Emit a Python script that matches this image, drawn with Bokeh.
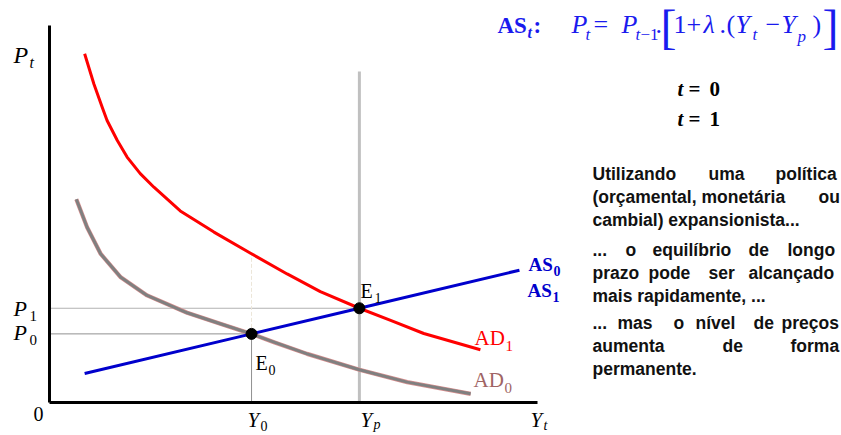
from bokeh.plotting import figure
from bokeh.models import Range1d
from bokeh.embed import file_html
from bokeh.resources import INLINE
from bokeh.core.properties import value

# ---------------- data (economic units: output Y on x axis, price P on y axis) ----------------
axis_len = 10.0
ad1_x = [0.72, 0.91, 1.08, 1.18, 1.39, 1.59, 1.86, 2.14, 2.68, 3.37, 4.12, 4.87, 5.55, 6.35, 6.99, 7.67, 8.83]
ad1_y = [9.25, 8.45, 7.83, 7.48, 6.95, 6.51, 6.07, 5.71, 5.08, 4.52, 3.96, 3.41, 2.94, 2.50, 2.18, 1.83, 1.40]
ad0_x = [0.55, 0.77, 1.05, 1.46, 2.00, 2.82, 3.50, 4.14, 4.60, 5.28, 6.35, 7.33, 8.63]
ad0_y = [5.39, 4.65, 3.94, 3.32, 2.84, 2.38, 2.09, 1.82, 1.60, 1.29, 0.87, 0.54, 0.23]
as_x = [0.72, 4.14, 6.35, 9.63]
as_y = [0.77, 1.82, 2.50, 3.51]
eq_x = [4.14, 6.35]          # Y0, Yp
eq_y = [1.82, 2.50]          # P0, P1
yp_top = 8.78
faint_top = 3.98

# ---------------- layout helpers ----------------
W, H = 841, 435
SX, SY = 48.8, 37.7          # pixels per unit
OX, OY = 49, 402             # picture position of the origin


def X(px):
    return (px - OX) / SX


def Y(py):
    return (OY - py) / SY


p = figure(width=W, height=H, output_backend="svg", toolbar_location=None,
           x_range=Range1d(X(0), X(W)), y_range=Range1d(Y(H), Y(0)),
           min_border=0, outline_line_color=None)
p.axis.visible = False
p.grid.visible = False
p.background_fill_color = "white"
p.border_fill_color = "white"

# dotted guides
p.line([0, eq_x[1]], [eq_y[1], eq_y[1]], line_color="#666666", line_width=1, line_dash="1 1")
p.line([0, eq_x[0]], [eq_y[0], eq_y[0]], line_color="#222222", line_width=1, line_dash="1 1")
p.line([eq_x[0], eq_x[0]], [0, eq_y[0]], line_color="#222222", line_width=1, line_dash="1 1")
p.line([eq_x[0], eq_x[0]], [eq_y[0], faint_top], line_color="#ece6d8", line_width=1, line_dash="4 2")

# long-run potential output
p.line([eq_x[1], eq_x[1]], [0, yp_top], line_color="#c0c0c0", line_width=3)

# axes
p.line([0, 0], [0, axis_len], line_color="black", line_width=3)
p.line([0, axis_len], [0, 0], line_color="black", line_width=3)

# curves
p.line(ad0_x, ad0_y, line_color="#d89090", line_width=4.2, line_join="round")
p.line(ad0_x, ad0_y, line_color="#808080", line_width=3, line_join="round")
p.line(ad1_x, ad1_y, line_color="#ff0000", line_width=3, line_join="round")
p.line(as_x, as_y, line_color="#0000cc", line_width=3)
p.scatter(eq_x, eq_y, size=11, color="black")


def put(px, base, s, size, style="normal", color="black", font="Liberation Serif"):
    # base = wanted baseline in picture pixels; placed by its middle
    mid = base - 0.33 * size
    p.text(x=[X(px)], y=[Y(mid)], text=[s], text_font=value(font),
           text_font_size=f"{size}px", text_font_style=style, text_color=color,
           text_baseline="middle", text_align="left")


# axis labels
put(13, 62, "P", 24, "italic")
put(29, 67, "t", 16, "italic")
put(33, 420, "0", 20)
put(13, 315, "P", 22, "italic")
put(29, 320, "1", 15)
put(13, 339, "P", 22, "italic")
put(29, 344, "0", 15)
put(247, 426, "Y", 21, "italic")
put(260, 430, "0", 14)
put(360, 426, "Y", 21, "italic")
put(373, 429, "p", 14, "italic")
put(530, 426, "Y", 21, "italic")
put(543, 430, "t", 14, "italic")

# point labels
put(255, 369, "E", 20)
put(268, 374, "0", 14)
put(360, 297, "E", 20)
put(374, 302, "1", 14)

# curve labels
put(528, 270, "AS", 19, "bold", "#0000cc")
put(553, 275, "0", 14, "bold", "#0000cc")
put(527, 296, "AS", 19, "bold", "#0000cc")
put(552, 301, "1", 14, "bold", "#0000cc")
put(474, 344, "AD", 21, "normal", "#ff0000")
put(505, 350, "1", 15, "normal", "#ff0000")
put(473, 386, "AD", 21, "normal", "#a06464")
put(504, 392, "0", 15, "normal", "#a06464")

# formula
BLUE = "#1a1aee"
put(497, 33, "AS", 23, "bold", BLUE)
put(527, 37, "t", 16, "bold italic", BLUE)
put(533, 33, ":", 23, "bold", BLUE)
put(571, 33, "P", 26, "italic", BLUE)
put(585, 40, "t", 17, "italic", BLUE)
put(593, 33, "=", 26, "normal", BLUE)
put(621, 33, "P", 26, "italic", BLUE)
put(635, 40, "t", 17, "italic", BLUE)
put(640, 40, "\u22121", 17, "normal", BLUE)
put(655, 33, ".", 26, "normal", BLUE)
put(660, 42, "[", 48, "normal", BLUE)
put(673, 33, "1", 26, "normal", BLUE)
put(686, 33, "+", 26, "normal", BLUE)
put(703, 33, "\u03bb", 26, "italic", BLUE)
put(719, 33, ".", 26, "normal", BLUE)
put(726, 33, "(", 26, "normal", BLUE)
put(735, 33, "Y", 26, "italic", BLUE)
put(752, 40, "t", 17, "italic", BLUE)
put(765, 33, "\u2212", 26, "normal", BLUE)
put(781, 33, "Y", 26, "italic", BLUE)
put(797, 42, "p", 17, "italic", BLUE)
put(812, 33, ")", 26, "normal", BLUE)
put(822, 42, "]", 48, "normal", BLUE)

put(677, 95, "t", 21, "bold italic")
put(688, 95, "=", 21, "bold")
put(709, 95, "0", 21, "bold")
put(677, 125, "t", 21, "bold italic")
put(688, 125, "=", 21, "bold")
put(709, 125, "1", 21, "bold")

# paragraph (justified word by word)
para = [
    (179, [(592, "Utilizando"), (708, "uma"), (775, "política")]),
    (202, [(592, "(orçamental,"), (701, "monetária"), (818, "ou")]),
    (225, [(592, "cambial) expansionista...")]),
    (255, [(592, "..."), (625, "o"), (652, "equilíbrio"), (748, "de"), (787, "longo")]),
    (278, [(592, "prazo"), (648, "pode"), (708, "ser"), (748, "alcançado")]),
    (301, [(592, "mais rapidamente, ...")]),
    (328, [(592, "..."), (617, "mas"), (673, "o"), (695, "nível"), (753, "de"), (781, "preços")]),
    (351, [(592, "aumenta"), (722, "de"), (790, "forma")]),
    (374, [(592, "permanente.")]),
]
for base, words in para:
    for wx, w in words:
        put(wx, base, w, 17.5, "bold", "#111111", "Liberation Sans")

open("out.html", "w").write(file_html(p, INLINE))
